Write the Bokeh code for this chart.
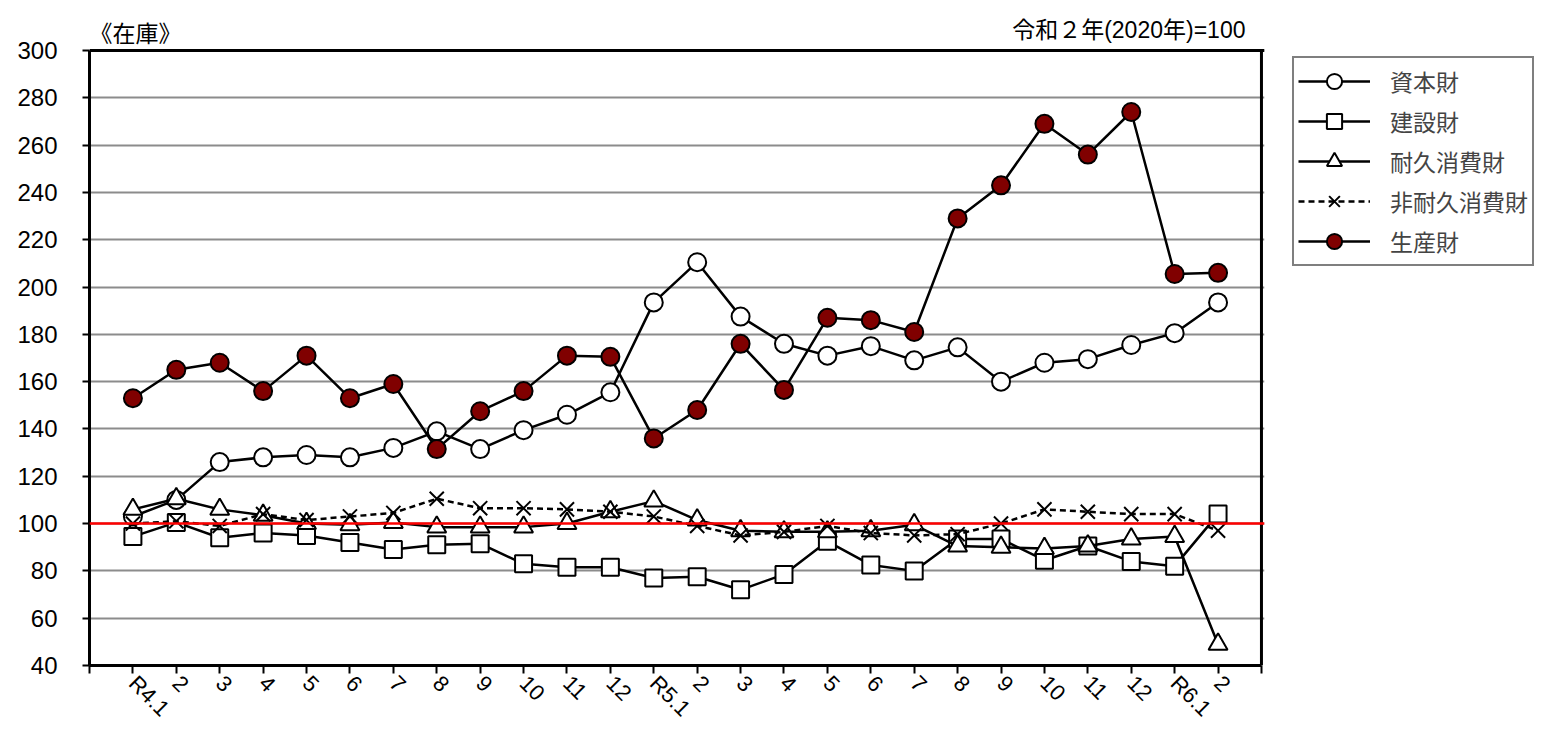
import math
from bokeh.plotting import figure
from bokeh.layouts import row
from bokeh.models import FixedTicker, Span, Legend, LegendItem, Label, Range1d
from bokeh.embed import file_html
from bokeh.resources import INLINE

months = ["R4.1", "2", "3", "4", "5", "6", "7", "8", "9", "10", "11", "12",
          "R5.1", "2", "3", "4", "5", "6", "7", "8", "9", "10", "11", "12",
          "R6.1", "2"]

capital = [103, 110, 126, 128, 129, 128, 132, 139, 131.5, 139.5, 146, 155.5,
           193.5, 210.5, 187.5, 176, 171, 175, 169, 174.5, 160, 168, 169.5, 175.5,
           180.5, 193.5]
construction = [94.5, 100.5, 94, 96, 95, 92, 89, 91, 91.5, 83, 81.5, 81.5,
                77, 77.5, 72, 78.5, 92.5, 82.5, 80, 93.5, 93.5, 84.5, 90.5, 84,
                82, 104]
durable = [106, 110.5, 106, 103.5, 100, 99.5, 100.5, 98.5, 98.5, 98.5, 100, 105,
           109.5, 101.5, 97, 96.5, 96.5, 97, 99.5, 90.5, 90, 89.5, 90.5, 93.5,
           94.5, 49]
nondurable = [100, 101, 99, 104, 101.5, 103, 104.5, 110.5, 106.5, 106.5, 106, 105,
              103, 99, 95, 96.5, 99, 96, 95, 95.5, 100, 106, 105, 104,
              104, 97]
producer = [153, 165, 168, 156, 171, 153, 159, 131.5, 147.5, 156, 171, 170.5,
            136, 148, 176, 156.5, 187, 186, 181, 229, 243, 269, 256, 274,
            205.5, 206]

series_names = ["資本財", "建設財", "耐久消費財", "非耐久消費財", "生産財"]
y_ticks = list(range(40, 301, 20))
base_value = 100
chart_title = "《在庫》"
base_note = "令和２年(2020年)=100"

x = list(range(len(months)))
y_lo, y_hi = y_ticks[0], y_ticks[-1]
x_lo, x_hi = -1, len(months)

JP = "'Noto Sans CJK JP'"
NUM = "'Liberation Sans', 'Noto Sans CJK JP'"

# layout constants (pixels)
W_MAIN, H = 1268, 733
LEFT, BOTTOM = 89, 68
PLOT_PX = 615              # height of the 40..300 band
X_PAD = 0.07               # room so the right border line is not clipped

y_top = y_lo + (H - BOTTOM) / PLOT_PX * (y_hi - y_lo)

p = figure(width=W_MAIN, height=H, x_range=Range1d(x_lo, x_hi + X_PAD),
           y_range=Range1d(y_lo, y_top),
           output_backend="svg", toolbar_location=None,
           min_border_left=LEFT, min_border_top=0,
           min_border_right=W_MAIN - LEFT - int(round((x_hi + X_PAD - x_lo) * 1172 / (x_hi - x_lo))),
           min_border_bottom=BOTTOM)
p.title.visible = False
p.outline_line_color = None

# x axis
p.xaxis.ticker = FixedTicker(ticks=list(range(x_lo, x_hi + 1)))
overrides = {i: m for i, m in enumerate(months)}
overrides[x_lo] = ""
overrides[x_hi] = ""
p.xaxis.major_label_overrides = overrides
p.xaxis.major_label_orientation = -math.pi / 4
p.xaxis.major_label_text_font = NUM
p.xaxis.major_label_text_font_size = "22px"
p.xaxis.major_label_text_color = "black"
p.xaxis.major_tick_in = 0
p.xaxis.major_tick_out = 8
p.xaxis.minor_tick_line_color = None
p.xaxis.axis_line_width = 3
p.xaxis.major_tick_line_width = 2
p.xaxis.major_label_standoff = 6
p.xaxis.bounds = (x_lo, x_hi)

# y axis
p.yaxis.ticker = FixedTicker(ticks=y_ticks)
p.yaxis.bounds = (y_lo, y_hi)
p.yaxis.major_label_text_font = NUM
p.yaxis.major_label_text_font_size = "24px"
p.yaxis.major_label_text_color = "black"
p.yaxis.major_tick_in = 0
p.yaxis.major_tick_out = 7
p.yaxis.minor_tick_line_color = None
p.yaxis.axis_line_width = 3
p.yaxis.major_tick_line_width = 2
p.yaxis.major_label_standoff = 25

p.xgrid.grid_line_color = None
p.ygrid.grid_line_color = "#8c8c8c"
p.ygrid.grid_line_width = 2

# plot-area border: top and right
p.add_layout(Span(location=y_hi, dimension="width", line_color="black", line_width=3))
p.segment(x0=[x_hi], y0=[y_lo], x1=[x_hi], y1=[y_hi], line_color="black", line_width=3)

def add_series(fig, xs, vals, marker, fill, dash="solid", size=18):
    lr = fig.line(xs, vals, line_color="black", line_width=2.5, line_dash=dash)
    if marker == "x":
        sr = fig.scatter(xs, vals, marker="x", size=size, line_color="black", line_width=2)
    else:
        sr = fig.scatter(xs, vals, marker=marker, size=size, fill_color=fill,
                         line_color="black", line_width=2)
    return lr, sr

styles = [("circle", "white", "solid", 18),
          ("square", "white", "solid", 17),
          ("triangle", "white", "solid", 19),
          ("x", None, "6 4", 20),
          ("circle", "#800000", "solid", 18)]
all_series = [capital, construction, durable, nondurable, producer]

for vals, (mk, fc, ds, sz) in zip(all_series, styles):
    add_series(p, x, vals, mk, fc, ds, sz)

p.add_layout(Span(location=base_value, dimension="width", line_color="red", line_width=2.5))

# texts above the plot area
p.add_layout(Label(x=x_lo, y=y_hi, y_offset=19, text=chart_title, text_align="left",
                   text_baseline="middle", text_font=JP,
                   text_font_size="23px", text_color="black"))
p.add_layout(Label(x=x_hi, y=y_hi, x_offset=-16, y_offset=21, text=base_note,
                   text_align="right", text_baseline="middle", text_font=NUM,
                   text_font_size="23px", text_color="black"))

# ---- legend panel (separate strip on the right) ----
# Its ranges sit below every series value, so its copies of the series stay
# out of view; they only supply the legend's glyph styles.
W_LEG = 1562 - W_MAIN
leg = figure(width=W_LEG, height=H, x_range=(0, 1), y_range=(0, 1),
             output_backend="svg", toolbar_location=None,
             x_axis_location=None, y_axis_location=None,
             min_border_left=0, min_border_right=0, min_border_top=0,
             min_border_bottom=BOTTOM)
leg.title.visible = False
leg.grid.visible = False
leg.outline_line_color = None

items = []
for name, vals, (mk, fc, ds, sz) in zip(series_names, all_series, styles):
    lr, sr = add_series(leg, x, vals, mk, fc, ds, sz)
    items.append(LegendItem(label=name, renderers=[lr, sr]))

LEG_H = 206
LEG_TOP = 60
LEG_LEFT = 1292
legend = Legend(items=items, location=(LEG_LEFT - W_MAIN, (H - BOTTOM) - LEG_TOP - LEG_H))
legend.border_line_color = "black"
legend.border_line_width = 2
legend.background_fill_color = "white"
legend.background_fill_alpha = 1
legend.label_text_font = JP
legend.label_text_font_size = "23px"
legend.glyph_width = 72
legend.glyph_height = 38
legend.label_height = 20
legend.spacing = 2
legend.padding = 4
legend.margin = 0
legend.label_standoff = 20
leg.add_layout(legend)

layout = row(p, leg, spacing=0)

open("out.html", "w").write(file_html(layout, INLINE))
